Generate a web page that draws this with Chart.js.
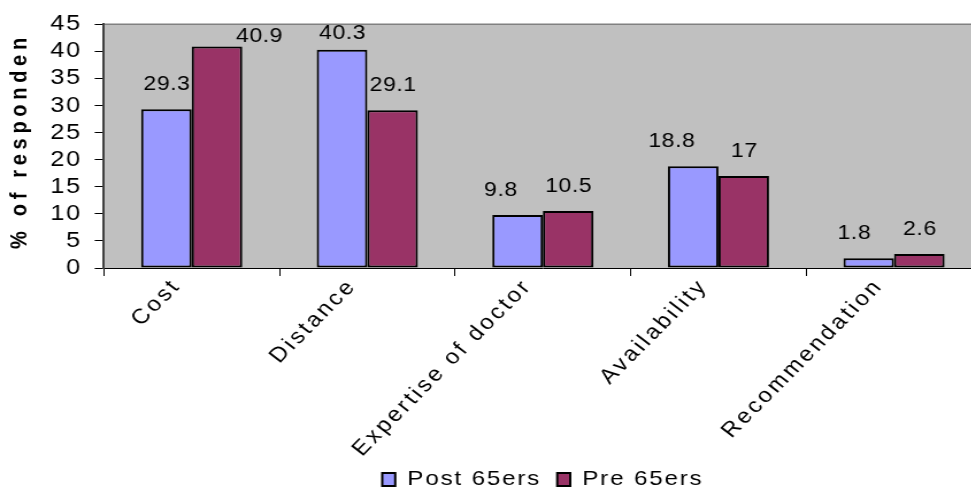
<!DOCTYPE html>
<html>
<head>
<meta charset="utf-8">
<script src="https://cdn.jsdelivr.net/npm/chart.js@4"></script>
<style>
  html, body { margin: 0; padding: 0; background: #ffffff; overflow: hidden; }
  #wrap { width: 971px; height: 488px; overflow: hidden; position: relative; }
  canvas { display: block; }
</style>
</head>
<body>
<div id="wrap">
  <!-- drawn at a narrower size and widened for the final display -->
  <canvas id="chart" width="862" height="500" style="width:991.3px;height:500px"></canvas>
</div>
<script>
// Reasons for choosing a provider, by age group (% of respondents)
const categories = ['Cost', 'Distance', 'Expertise of doctor', 'Availability', 'Recommendation'];
const post65ers = [29.3, 40.3, 9.8, 18.8, 1.8];
const pre65ers = [40.9, 29.1, 10.5, 17, 2.6];
const seriesNames = ['Post 65ers', 'Pre 65ers'];
const yTickValues = [0, 5, 10, 15, 20, 25, 30, 35, 40, 45];
const yAxisTitle = '% of respondents';

const FONT = '"Liberation Sans", Arial, Helvetica, sans-serif';
const SPACING = '1.6px';
const CATEGORY_SPACING = '2.7px';

// Grey plot background plus a thin frame line along the top edge
const plotBackground = {
  id: 'plotBackground',
  beforeDraw(chart) {
    const { ctx, chartArea: a } = chart;
    ctx.save();
    ctx.fillStyle = '#c0c0c0';
    ctx.fillRect(a.left, a.top, a.right - a.left, a.bottom - a.top);
    ctx.strokeStyle = '#808080';
    ctx.lineWidth = 1.5;
    ctx.beginPath();
    ctx.moveTo(a.left, a.top);
    ctx.lineTo(a.right, a.top);
    ctx.stroke();
    ctx.restore();
  }
};

// Letter spacing for all library-drawn text
const textSpacing = {
  id: 'textSpacing',
  beforeUpdate(chart) { chart.ctx.letterSpacing = SPACING; },
  beforeLayout(chart) { chart.ctx.letterSpacing = SPACING; },
  beforeDraw(chart) { chart.ctx.letterSpacing = SPACING; }
};

// Value labels above each bar
const barLabels = {
  id: 'barLabels',
  afterDatasetsDraw(chart, args, opts) {
    const ctx = chart.ctx;
    ctx.save();
    ctx.font = '20px ' + FONT;
    ctx.letterSpacing = '0.5px';
    ctx.fillStyle = '#000000';
    ctx.textAlign = 'center';
    ctx.textBaseline = 'alphabetic';
    chart.data.datasets.forEach((ds, di) => {
      const nudges = opts.nudge[di] || [];
      chart.getDatasetMeta(di).data.forEach((bar, i) => {
        const n = nudges[i] || [0, 0];
        ctx.fillText(String(ds.data[i]), bar.x + 0.5 + n[0], bar.y - opts.gap + n[1]);
      });
    });
    ctx.restore();
  }
};

// Rotated value-axis title, clipped to its frame
const axisTitle = {
  id: 'axisTitle',
  afterDraw(chart) {
    const ctx = chart.ctx;
    ctx.save();
    ctx.beginPath();
    ctx.rect(0, 36, 60, 470);
    ctx.clip();
    ctx.translate(17.4, 249);
    ctx.rotate(-Math.PI / 2);
    ctx.font = 'bold 20px ' + FONT;
    ctx.letterSpacing = '4.7px';
    ctx.fillStyle = '#000000';
    ctx.textAlign = 'left';
    ctx.textBaseline = 'middle';
    ctx.fillText(yAxisTitle, 0, 0);
    ctx.restore();
  }
};

new Chart(document.getElementById('chart'), {
  type: 'bar',
  data: {
    labels: categories,
    datasets: [
      {
        label: seriesNames[0],
        data: post65ers,
        backgroundColor: '#9999ff',
        borderColor: '#000000',
        borderWidth: 2,
        borderSkipped: false,
        barPercentage: 1.0,
        categoryPercentage: 0.576
      },
      {
        label: seriesNames[1],
        data: pre65ers,
        backgroundColor: '#993366',
        borderColor: '#000000',
        borderWidth: 2,
        borderSkipped: false,
        barPercentage: 1.0,
        categoryPercentage: 0.576
      }
    ]
  },
  options: {
    responsive: false,
    devicePixelRatio: 1,
    animation: false,
    events: [],
    layout: { padding: { left: 0, right: 8, top: 22, bottom: 0 } },
    scales: {
      x: {
        grid: {
          display: true,
          drawOnChartArea: false,
          drawTicks: true,
          tickLength: 8,
          color: '#000000',
          offset: true
        },
        border: { display: true, color: '#000000', width: 1 },
        ticks: {
          autoSkip: false,
          maxRotation: 49,
          minRotation: 49,
          padding: -2,
          labelOffset: -13,
          color: '#000000',
          font: { family: FONT, size: 21 }
        },
        afterFit(scale) {
          scale.height = 187;
          // let long rotated labels run past the axis box
          scale._computeLabelArea = () => undefined;
          // wider tracking for the category names
          if (!scale._wideLabels) {
            const drawLabels = scale.drawLabels;
            scale.drawLabels = function (area) {
              this.ctx.save();
              this.ctx.letterSpacing = CATEGORY_SPACING;
              drawLabels.call(this, area);
              this.ctx.restore();
            };
            scale._wideLabels = true;
          }
        }
      },
      y: {
        min: 0,
        max: 45,
        afterBuildTicks(scale) { scale.ticks = yTickValues.map(v => ({ value: v })); },
        grid: {
          display: true,
          drawOnChartArea: false,
          drawTicks: true,
          tickLength: 8,
          color: '#000000'
        },
        border: { display: true, color: '#404040', width: 2 },
        ticks: {
          autoSkip: false,
          padding: 11,
          color: '#000000',
          font: { family: FONT, size: 22 }
        },
        afterFit(scale) { scale.width = 90.4; }
      }
    },
    plugins: {
      legend: {
        position: 'bottom',
        fullSize: false,
        labels: {
          boxWidth: 11.3,
          boxHeight: 13,
          padding: 14,
          color: '#000000',
          font: { family: FONT, size: 21 }
        }
      },
      tooltip: { enabled: false },
      barLabels: {
        gap: 19,
        nudge: [
          [[0, 0], [0, 8], [-15, 0], [-19, 0], [-13, 0]],
          [[36.5, 15], [0, 0], [0, 0], [0, 0], [0, 0]]
        ]
      }
    }
  },
  plugins: [textSpacing, plotBackground, barLabels, axisTitle]
});
</script>
</body>
</html>
